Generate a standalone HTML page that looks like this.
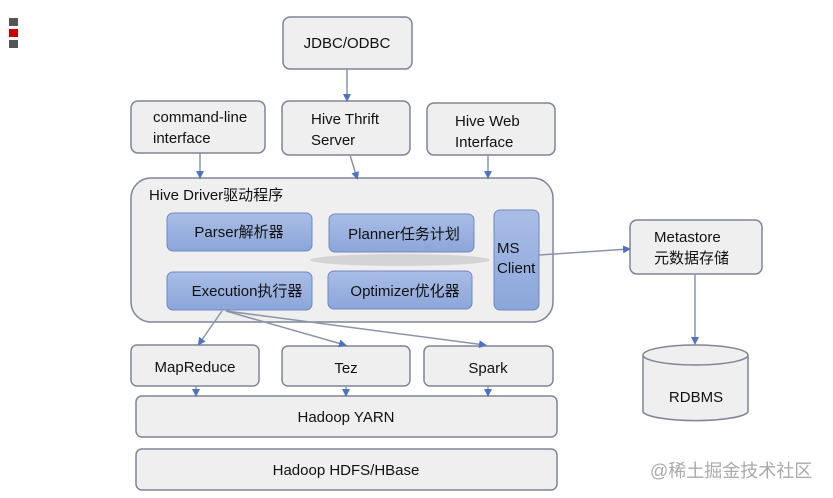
<!DOCTYPE html>
<html><head><meta charset="utf-8"><style>
html,body{margin:0;padding:0;background:#fff;width:833px;height:498px;overflow:hidden}
svg text{font-family:"Liberation Sans","Noto Sans CJK SC",sans-serif;fill:#111}
</style></head><body>
<svg width="833" height="498" viewBox="0 0 833 498" xmlns="http://www.w3.org/2000/svg">
<defs>
<linearGradient id="bl" x1="0" y1="0" x2="0" y2="1"><stop offset="0" stop-color="#a9bde6"/><stop offset="1" stop-color="#8ca6da"/></linearGradient>
<marker id="ar" markerWidth="8" markerHeight="8" refX="6" refY="4" orient="auto" markerUnits="userSpaceOnUse"><path d="M0,0 L8,4 L0,8 z" fill="#4f73c0"/></marker>
</defs>
<rect x="9" y="18" width="9" height="8" fill="#555"/>
<rect x="9" y="29" width="9" height="8" fill="#c00"/>
<rect x="9" y="40" width="9" height="8" fill="#555"/>
<g fill="#efefef" stroke="#7d8596" stroke-width="1.5">
<rect x="283" y="17" width="129" height="52" rx="7"/>
<rect x="131" y="101" width="134" height="52" rx="7"/>
<rect x="282" y="101" width="128" height="54" rx="7"/>
<rect x="427" y="103" width="128" height="52" rx="7"/>
<rect x="131" y="178" width="422" height="144" rx="20"/>
<rect x="630" y="220" width="132" height="54" rx="7"/>
<rect x="131" y="345" width="128" height="41" rx="6"/>
<rect x="282" y="346" width="128" height="40" rx="6"/>
<rect x="424" y="346" width="129" height="40" rx="6"/>
<rect x="136" y="396" width="421" height="41" rx="6"/>
<rect x="136" y="449" width="421" height="41" rx="6"/>
<path d="M643,355 L643,412 A53,10 0 0 0 748,412 L748,355"/>
<ellipse cx="695.5" cy="355" rx="52.5" ry="10"/>
</g>
<ellipse cx="400" cy="260" rx="90" ry="6" fill="#d4d4d4"/>
<g fill="url(#bl)" stroke="#6f88c0" stroke-width="1">
<rect x="167" y="213" width="145" height="38" rx="6"/>
<rect x="329" y="214" width="145" height="38" rx="6"/>
<rect x="494" y="210" width="45" height="100" rx="6"/>
<rect x="167" y="272" width="145" height="38" rx="6"/>
<rect x="328" y="271" width="144" height="38" rx="6"/>
</g>
<g stroke="#8a94a8" stroke-width="1.5" fill="none" marker-end="url(#ar)">
<line x1="347" y1="69" x2="347" y2="100"/>
<line x1="200" y1="153" x2="200" y2="177"/>
<line x1="350" y1="155" x2="357" y2="178"/>
<line x1="488" y1="155" x2="488" y2="177"/>
<line x1="539" y1="255" x2="629" y2="249"/>
<line x1="695" y1="274" x2="695" y2="343"/>
<line x1="222" y1="311" x2="199" y2="344"/>
<line x1="226" y1="311" x2="345" y2="345"/>
<line x1="226" y1="311" x2="485" y2="345"/>
<line x1="196" y1="386" x2="196" y2="395"/>
<line x1="346" y1="386" x2="346" y2="395"/>
<line x1="488" y1="386" x2="488" y2="395"/>
</g>
<g font-size="15">
<text x="347" y="48" text-anchor="middle">JDBC/ODBC</text>
<text x="153" y="122">command-line</text>
<text x="153" y="143">interface</text>
<text x="311" y="124">Hive Thrift</text>
<text x="311" y="145">Server</text>
<text x="455" y="126">Hive Web</text>
<text x="455" y="147">Interface</text>
<text x="149" y="200">Hive Driver驱动程序</text>
<text x="239" y="237" text-anchor="middle">Parser解析器</text>
<text x="404" y="239" text-anchor="middle">Planner任务计划</text>
<text x="497" y="253">MS</text>
<text x="497" y="273">Client</text>
<text x="247" y="296" text-anchor="middle">Execution执行器</text>
<text x="405" y="296" text-anchor="middle">Optimizer优化器</text>
<text x="654" y="242">Metastore</text>
<text x="654" y="263">元数据存储</text>
<text x="195" y="372" text-anchor="middle">MapReduce</text>
<text x="346" y="373" text-anchor="middle">Tez</text>
<text x="488" y="373" text-anchor="middle">Spark</text>
<text x="346" y="422" text-anchor="middle">Hadoop YARN</text>
<text x="346" y="475" text-anchor="middle">Hadoop HDFS/HBase</text>
<text x="696" y="402" text-anchor="middle">RDBMS</text>
<text x="650" y="477" style="fill:#aaa" font-size="18">@稀土掘金技术社区</text>
</g>
</svg>
</body></html>
